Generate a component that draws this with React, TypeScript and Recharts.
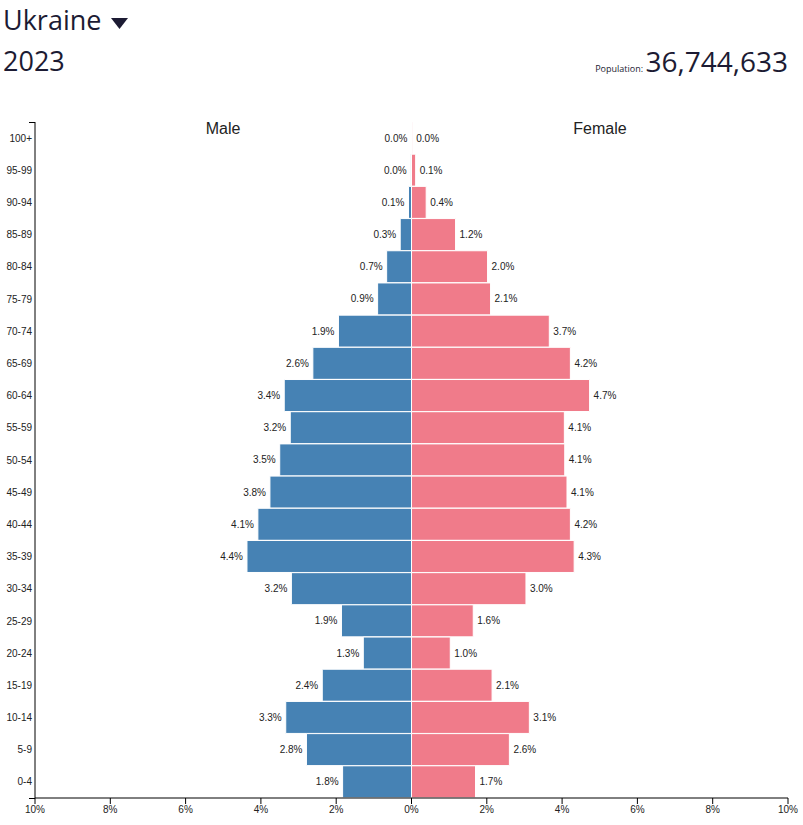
import React from "react";
import { BarChart, Bar, XAxis, YAxis, LabelList } from "recharts";

const ageGroups = ["100+", "95-99", "90-94", "85-89", "80-84", "75-79", "70-74", "65-69", "60-64", "55-59", "50-54", "45-49", "40-44", "35-39", "30-34", "25-29", "20-24", "15-19", "10-14", "5-9", "0-4"];
const malePct = [0.004, 0.02, 0.08, 0.3, 0.66, 0.9, 1.94, 2.62, 3.38, 3.22, 3.5, 3.76, 4.08, 4.37, 3.19, 1.86, 1.28, 2.37, 3.34, 2.79, 1.83];
const femalePct = [0.02, 0.11, 0.39, 1.17, 2.02, 2.1, 3.66, 4.22, 4.73, 4.06, 4.07, 4.13, 4.22, 4.32, 3.04, 1.64, 1.03, 2.14, 3.13, 2.6, 1.7];
const xTicks = [-10, -8, -6, -4, -2, 0, 2, 4, 6, 8, 10];

const country = "Ukraine";
const year = "2023";
const population = "36,744,633";

const data = ageGroups.map((age, i) => ({
  age,
  male: -malePct[i],
  female: femalePct[i],
}));

const MALE = "#4682B4";
const FEMALE = "#F07B8A";
const TEXT = "#1c1b33";

const fmt = (v: number) => Math.abs(v).toFixed(1) + "%";

const MaleLabel = (props: any) => {
  const { x, y, width, height, value } = props;
  const left = Math.min(x, x + width);
  return (
    <text x={left - 4} y={y + height / 2} dy={3.5} textAnchor="end" fontSize={10} fill="#222" fontFamily="Liberation Sans, Arial, sans-serif">
      {fmt(value)}
    </text>
  );
};

const FemaleLabel = (props: any) => {
  const { x, y, width, height, value } = props;
  const right = Math.max(x, x + width);
  return (
    <text x={right + 4} y={y + height / 2} dy={3.5} textAnchor="start" fontSize={10} fill="#222" fontFamily="Liberation Sans, Arial, sans-serif">
      {fmt(value)}
    </text>
  );
};

export default function App() {
  return (
    <div style={{ position: "absolute", left: 0, top: 0, width: 803, height: 825, background: "#fff" }}>
      <div style={{ position: "absolute", left: 3, top: 2, fontFamily: "'Open Sans', sans-serif", fontSize: 27, color: TEXT, lineHeight: "36px", whiteSpace: "nowrap" }}>
        {country}
        <svg width={18} height={12} style={{ marginLeft: 10, verticalAlign: "middle" }}>
          <polygon points="0,1 17,1 8.5,12" fill={TEXT} />
        </svg>
      </div>
      <div style={{ position: "absolute", left: 3, top: 43, fontFamily: "'Open Sans', sans-serif", fontSize: 27, color: TEXT, lineHeight: "36px" }}>
        {year}
      </div>
      <div style={{ position: "absolute", right: 15, top: 43, fontFamily: "'Open Sans', sans-serif", color: TEXT, lineHeight: "36px", whiteSpace: "nowrap" }}>
        <span style={{ fontSize: 9 }}>Population: </span>
        <span style={{ fontSize: 28 }}>{population}</span>
      </div>
      <div style={{ position: "absolute", left: 0, top: 0 }}>
        <BarChart
          width={803}
          height={825}
          data={data}
          layout="vertical"
          stackOffset="sign"
          barCategoryGap={0}
          margin={{ top: 122, right: 15, bottom: 0, left: 0 }}
        >
          <XAxis
            type="number"
            domain={[-10, 10]}
            ticks={xTicks}
            tickFormatter={(v: number) => Math.abs(v) + "%"}
            height={27}
            stroke="#000"
            tick={{ fontSize: 10, fill: "#222", fontFamily: "Liberation Sans, Arial, sans-serif" }}
            tickSize={6}
            allowDataOverflow
          />
          <YAxis
            type="category"
            dataKey="age"
            width={35}
            stroke="#000"
            tickLine={false}
            tickSize={0}
            tick={{ fontSize: 10, fill: "#222", fontFamily: "Liberation Sans, Arial, sans-serif" }}
            tickMargin={3}
          />
          <Bar dataKey="male" stackId="a" fill={MALE} stroke="#fff" strokeWidth={1} isAnimationActive={false}>
            <LabelList dataKey="male" content={MaleLabel} />
          </Bar>
          <Bar dataKey="female" stackId="a" fill={FEMALE} stroke="#fff" strokeWidth={1} isAnimationActive={false}>
            <LabelList dataKey="female" content={FemaleLabel} />
          </Bar>
          <line x1={29} y1={122.5} x2={35} y2={122.5} stroke="#000" />
          <line x1={29} y1={798.5} x2={35} y2={798.5} stroke="#000" />
          <text x={223} y={134} textAnchor="middle" fontSize={16} fill="#222" fontFamily="Liberation Sans, Arial, sans-serif">Male</text>
          <text x={600} y={134} textAnchor="middle" fontSize={16} fill="#222" fontFamily="Liberation Sans, Arial, sans-serif">Female</text>
        </BarChart>
      </div>
    </div>
  );
}
